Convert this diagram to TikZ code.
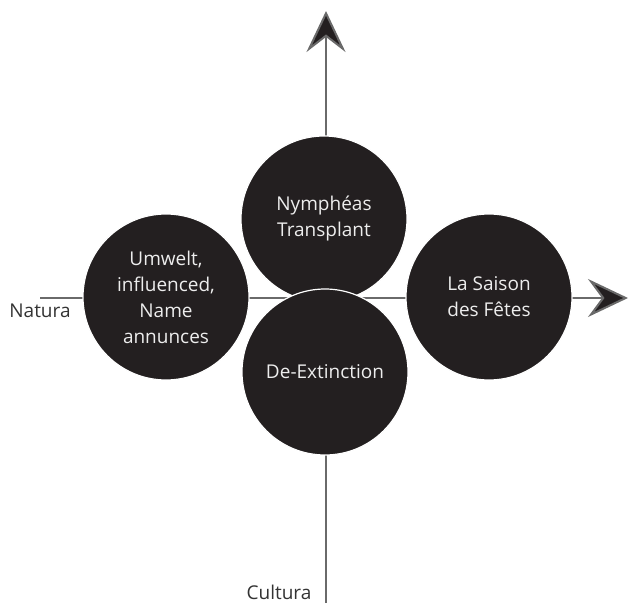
\documentclass[tikz,border=0pt]{standalone}
\usepackage{fontspec}
\setmainfont{Open Sans}
\usetikzlibrary{arrows.meta}
\definecolor{cfill}{HTML}{231F20}
\definecolor{axisgray}{HTML}{6A6A6A}
\definecolor{labelgray}{HTML}{333333}
\begin{document}
\begin{tikzpicture}[x=1pt,y=-1pt,
  circ/.style={circle, fill=cfill, draw=white, line width=1.2pt, minimum size=166pt, inner sep=0pt, align=center, text=white!93!black, font=\fontsize{19}{26}\selectfont},
  axisline/.style={draw=axisgray, line width=2pt},
  lbl/.style={text=labelgray, font=\fontsize{19}{22}\selectfont, inner sep=0pt}]
\useasboundingbox (0,0) rectangle (629,605);
\coordinate (htail) at (40,298);
\coordinate (htip) at (628,298);
\coordinate (vtail) at (326,603);
\coordinate (vtip) at (326,11);
\draw[axisline, -{Stealth[length=40pt,width=38pt,inset=14pt,fill=cfill]}] (htail) -- (htip);
\draw[axisline, -{Stealth[length=41pt,width=39pt,inset=15pt,fill=cfill]}] (vtail) -- (vtip);
\node[circ] (top) at (324,219) {Nymphéas\\Transplant};
\node[circ] (bottom) at (325,372) {De-Extinction};
\node[circ] (left) at (166,297) {Umwelt,\\influenced,\\Name\\annunces};
\node[circ] (right) at (489,297) {La Saison\\des Fêtes};
\node[lbl] (natura) at (40,311) {Natura};
\node[lbl] (cultura) at (279,592) {Cultura};
\end{tikzpicture}
\end{document}
